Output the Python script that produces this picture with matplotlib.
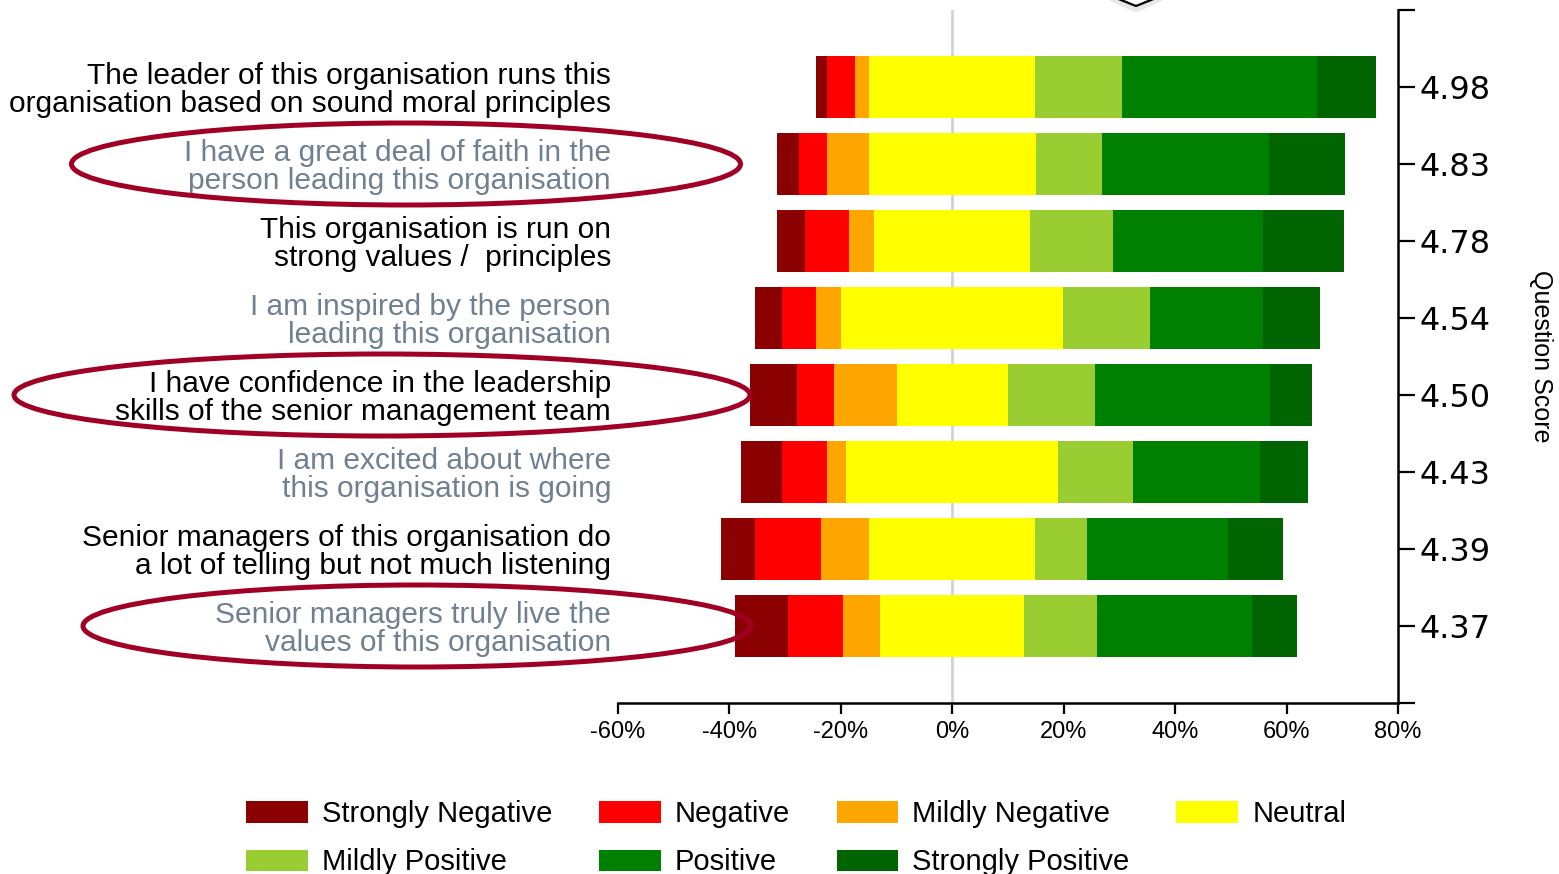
import matplotlib.pyplot as plt
from matplotlib.patches import Ellipse

# Datos (porcentaje de respuestas por pregunta)
questions = [
    "The leader of this organisation runs this\norganisation based on sound moral principles",
    "I have a great deal of faith in the\nperson leading this organisation",
    "This organisation is run on\nstrong values /  principles",
    "I am inspired by the person\nleading this organisation",
    "I have confidence in the leadership\nskills of the senior management team",
    "I am excited about where\nthis organisation is going",
    "Senior managers of this organisation do\na lot of telling but not much listening",
    "Senior managers truly live the\nvalues of this organisation",
]
scores = ["4.98", "4.83", "4.78", "4.54", "4.50", "4.43", "4.39", "4.37"]

strongly_negative = [2.0, 3.9, 5.0, 4.8, 8.4, 7.4, 6.1, 9.5]
negative = [5.0, 5.0, 7.9, 6.1, 6.6, 8.1, 11.9, 9.9]
mildly_negative = [2.5, 7.5, 4.5, 4.5, 11.3, 3.4, 8.6, 6.6]
neutral = [29.8, 30.0, 28.0, 39.9, 20.0, 38.0, 29.8, 25.9]
mildly_positive = [15.6, 11.8, 14.9, 15.6, 15.6, 13.5, 9.2, 13.1]
positive = [34.9, 30.0, 26.9, 20.3, 31.4, 22.8, 25.3, 27.8]
strongly_positive = [10.6, 13.6, 14.5, 10.1, 7.5, 8.6, 10.0, 8.1]

categories = ["Strongly Negative", "Negative", "Mildly Negative", "Neutral",
              "Mildly Positive", "Positive", "Strongly Positive"]
colors = ["#8b0000", "#ff0000", "#ffa500", "#ffff00", "#9acd32", "#008000", "#006400"]
highlighted = [1, 4, 7]

series = [strongly_negative, negative, mildly_negative, neutral,
          mildly_positive, positive, strongly_positive]
n = len(questions)
pos = list(range(n))

# Crear la gráfica
fig = plt.figure(figsize=(15.59, 8.74), dpi=100)
ax = fig.add_axes([618 / 1559, 1 - 703 / 874, (1398 - 618) / 1559, 693 / 874])

# punto de inicio: la parte neutral queda centrada en 0
left = [-(neutral[i] / 2 + mildly_negative[i] + negative[i] + strongly_negative[i]) for i in range(n)]
for vals, col, name in zip(series, colors, categories):
    ax.barh(pos, vals, left=left, height=0.8, color=col, label=name, zorder=2)
    left = [l + v for l, v in zip(left, vals)]

ax.axvline(0, color="#d3d3d3", lw=2, zorder=0)
ax.set_xlim(-60, 80)
ax.set_ylim(n, -1)

ax.set_xticks(range(-60, 81, 20))
ax.set_xticklabels([f"{v}%" for v in range(-60, 81, 20)],
                   family=["Liberation Sans Narrow", "Liberation Sans"], fontsize=17)
ax.tick_params(axis="x", length=8, width=1.6, pad=5)

ax.set_yticks(pos)
ax.set_yticklabels(questions, family="Liberation Sans", fontsize=21.5,
                   linespacing=1.02, multialignment="right")
for i, t in enumerate(ax.get_yticklabels()):
    t.set_color("#000000" if i % 2 == 0 else "#708090")
ax.tick_params(axis="y", length=0, pad=5)

for s in ["left", "top", "right"]:
    ax.spines[s].set_visible(False)
ax.spines["bottom"].set_linewidth(1.8)

# eje derecho con la puntuación
ax2 = ax.twinx()
ax2.set_ylim(ax.get_ylim())
ax2.set_yticks([-1] + pos + [n])
ax2.set_yticklabels([""] + scores + [""], family="DejaVu Sans", fontsize=23)
ax2.tick_params(axis="y", length=12.5, width=1.6, pad=3)
for s in ["left", "top", "bottom"]:
    ax2.spines[s].set_visible(False)
ax2.spines["right"].set_linewidth(1.8)
ax2.set_ylabel("Question Score", rotation=270, family="Liberation Sans",
               fontsize=18, labelpad=45)

# Leyenda (orden para que se lea por filas)
handles, labels = ax.get_legend_handles_labels()
order = [0, 4, 1, 5, 2, 6, 3]
fig.legend([handles[i] for i in order], [labels[i] for i in order], ncol=4,
           loc="upper left", bbox_to_anchor=(246 / 1559, 1 - 800 / 874), frameon=False,
           prop={"family": "Liberation Sans", "size": 21},
           handlelength=2.12, handleheight=0.75, handletextpad=0.48,
           columnspacing=1.6, labelspacing=0.7, borderpad=0, borderaxespad=0)

# Capa de anotaciones en píxeles
over = fig.add_axes([0, 0, 1, 1], zorder=5)
over.set_xlim(0, 1559)
over.set_ylim(874, 0)
over.axis("off")

fig.canvas.draw()
ell_x = [406, 382, 417]
ell_w = [669, 736, 668]
for idx, cx, w in zip(highlighted, ell_x, ell_w):
    cy = 874 - ax.transData.transform((0, pos[idx]))[1]
    over.add_patch(Ellipse((cx, cy), w, 82, fill=False, edgecolor="#a10025", lw=3.6))

# marca cortada en la parte superior
over.plot([1112, 1136, 1160], [-2, 9, -2], color="#d0d0d0", lw=5, alpha=0.5)
over.plot([1116, 1136, 1156], [-2, 6, -2], color="black", lw=1.6)

fig.savefig("out.png", dpi=100)
